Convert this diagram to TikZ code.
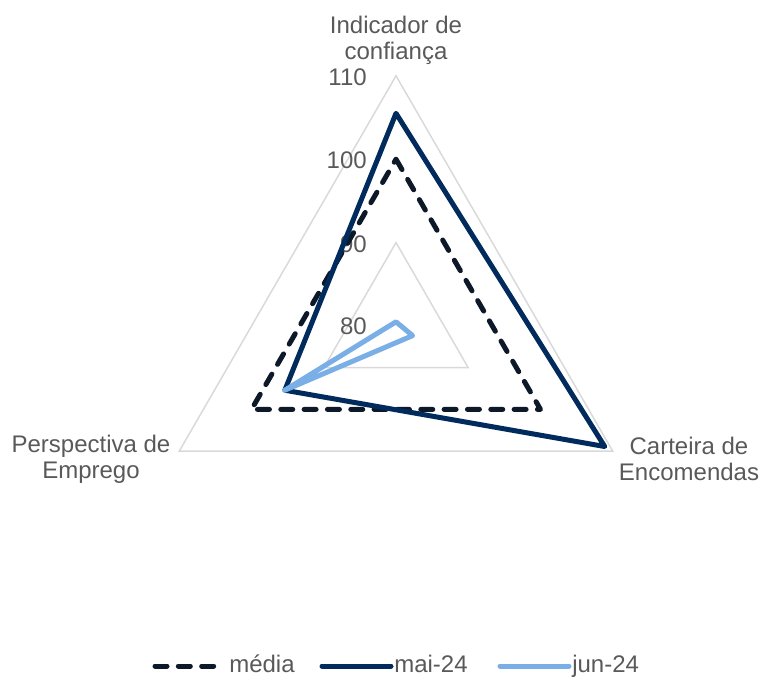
\documentclass[tikz,border=0pt]{standalone}
\usepackage{fontspec}
\setmainfont{Liberation Sans}
\definecolor{gridgrey}{RGB}{217,217,217}
\definecolor{labelgrey}{RGB}{89,89,89}
\definecolor{mediadark}{RGB}{13,24,40}
\definecolor{maiblue}{RGB}{0,43,92}
\definecolor{junblue}{RGB}{122,174,230}
\tikzset{
  gridline/.style={draw=gridgrey, line width=1.1pt, line join=miter},
  series/.style={line width=3.75pt, line join=round, line cap=round},
  mediastyle/.style={series, draw=mediadark, dash pattern={on 9pt off 8.5pt}},
  maistyle/.style={series, draw=maiblue},
  junstyle/.style={series, draw=junblue},
  chartlabel/.style={text=labelgrey, font=\fontsize{18}{19.5}\selectfont, inner sep=0.75pt, align=center},
}
\begin{document}
\begin{tikzpicture}[x=0.75pt,y=0.75pt,yscale=-1,xscale=1]
\path[use as bounding box] (0,0) rectangle (762,676);

%Shape: Triangle grid 110
\draw [gridline] (396,75.8) -- (612.7,451.1) -- (179.3,451.1) -- cycle ;
%Shape: Triangle grid 90
\draw [gridline] (396,242.6) -- (468.2,367.7) -- (323.8,367.7) -- cycle ;

% Text Node
\draw (368,77) node [anchor=east][chartlabel] (t110) {110};
% Text Node
\draw (368,160) node [anchor=east][chartlabel] (t100) {100};
% Text Node
\draw (368,244) node [anchor=east][chartlabel] (t90) {90};
% Text Node
\draw (368,326) node [anchor=east][chartlabel] (t80) {80};

%Shape: media
\draw [mediastyle] (396,159.2) -- (540.5,409.4) -- (251.5,409.4) -- cycle ;
%Shape: mai-24
\draw [maistyle] (396,113.3) -- (604.7,446.5) -- (284.8,390.2) -- cycle ;
%Shape: jun-24
\draw [junstyle] (396,321.8) -- (412.6,335.6) -- (284.8,390.2) -- cycle ;

% Text Node
\draw (396,40) node [chartlabel] (indicador) {Indicador de\\confiança};
% Text Node
\draw (689,459) node [chartlabel] (carteira) {Carteira de\\Encomendas};
% Text Node
\draw (91,459) node [chartlabel] (perspectiva) {Perspectiva de\\Emprego};

%Legend
\draw [mediastyle] (155,666) -- (214,666) ;
\draw (228,672) node [anchor=base west][chartlabel] (lmedia) {média};
\draw [maistyle] (322,666) -- (391,666) ;
\draw (393,672) node [anchor=base west][chartlabel] (lmai) {mai-24};
\draw [junstyle] (500,666) -- (569,666) ;
\draw (571,672) node [anchor=base west][chartlabel] (ljun) {jun-24};

\end{tikzpicture}
\end{document}
